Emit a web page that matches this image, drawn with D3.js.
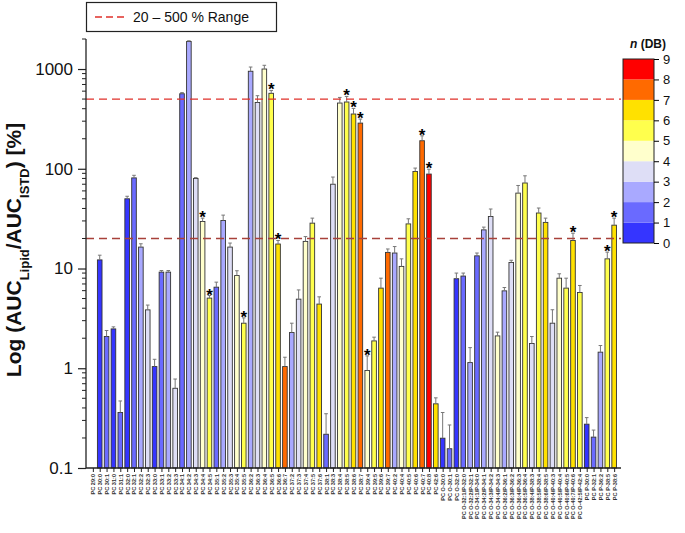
<!DOCTYPE html>
<html lang="en">
<head>
  <meta charset="UTF-8" />
  <title>PC species - AUC Lipid / AUC ISTD</title>
  <script src="https://d3js.org/d3.v7.min.js"></script>
  <style>
    body { margin: 0; background: #fff; }
    svg { font-family: Arial, "Liberation Sans", sans-serif; }
  </style>
</head>
<body>
  <div id="chart"></div>

  <script>
    // Lipid species (x axis)
    const labels = [
      "PC 29:0", "PC 30:0", "PC 30:1", "PC 31:0", "PC 31:1", "PC 32:0", "PC 32:1", "PC 32:2",
      "PC 32:3", "PC 33:0", "PC 33:1", "PC 33:2", "PC 33:3", "PC 34:1", "PC 34:2", "PC 34:3",
      "PC 34:4", "PC 34:5", "PC 35:1", "PC 35:2", "PC 35:3", "PC 35:4", "PC 35:5", "PC 36:2",
      "PC 36:3", "PC 36:4", "PC 36:5", "PC 36:6", "PC 36:7", "PC 37:2", "PC 37:3", "PC 37:4",
      "PC 37:5", "PC 37:6", "PC 38:1", "PC 38:3", "PC 38:4", "PC 38:5", "PC 38:6", "PC 38:7",
      "PC 39:4", "PC 39:5", "PC 39:6", "PC 39:7", "PC 40:2", "PC 40:4", "PC 40:5", "PC 40:6",
      "PC 40:7", "PC 40:8", "PC 42:6", "PC O-30:0", "PC O-30:1", "PC O-32:0",
      "PC O-32:1/P-32:0", "PC O-32:2/P-32:1", "PC O-34:1/P-34:0", "PC O-34:2/P-34:1",
      "PC O-34:3/P-34:2", "PC O-34:4/P-34:3", "PC O-36:2/P-36:1", "PC O-36:3/P-36:2",
      "PC O-36:4/P-36:3", "PC O-36:5/P-36:4", "PC O-38:4/P-38:3", "PC O-38:5/P-38:4",
      "PC O-38:6/P-38:5", "PC O-40:4/P-40:3", "PC O-40:5/P-40:4", "PC O-40:6/P-40:5",
      "PC O-40:7/P-40:6", "PC O-42:5/P-42:4", "PC P-30:0", "PC P-32:1", "PC P-36:2",
      "PC P-38:5", "PC P-38:6"
    ];

    // AUC ratio in % (null = not shown)
    const values = [
      null, 12.2, 2.08, 2.48, 0.36, 50, 81, 16.4, 3.85, 1.04, 9.2, 9.2, 0.63, 565, 1890, 80,
      29.6, 5.05, 6.5, 30.3, 16.4, 8.5, 2.83, 950, 462, 1000, 571, 17.6, 1.04, 2.28, 4.93, 18.7,
      28.5, 4.4, 0.218, 70, 456, 467, 354, 287, 0.95, 1.88, 6.36, 14.5, 14.3, 10.5, 28, 94,
      191, 88.5, 0.44, 0.199, 0.156, 7.9, 8.4, 1.14, 13.4, 24.4, 33.2, 2.11, 5.97, 11.5,
      57, 72, 1.77, 36, 29, 2.83, 8.0, 6.36, 19.1, 5.75, 0.275, 0.204, 1.45, 12.5, 27.2
    ];

    // upper end of the error bar
    const errorTop = [
      null, 13.6, 2.39, 2.6, 0.47, 53, 86, 17.7, 4.3, 1.23, 9.55, 9.55, 0.78, 580, 1920, 81.5,
      32, 5.36, 7.3, 34.3, 18, 9.5, 3.2, 1047, 540, 1090, 610, 19.1, 1.29, 2.83, 6.1, 20.9,
      32, 5.2, 0.35, 82.6, 519, 531, 403, 315, 1.33, 2.05, 8.0, 15.7, 16.6, 12.5, 31.5, 101.6,
      214, 99, 0.505, 0.36, 0.27, 9.0, 9.0, 1.61, 14.3, 26, 39.5, 2.3, 6.45, 12.1,
      68, 85, 2.08, 40.4, 32, 3.86, 8.85, 8.0, 22.6, 6.76, 0.32, 0.24, 1.69, 14.6, 32
    ];

    // number of double bonds (colour)
    const doubleBonds = [
      0, 0, 1, 0, 1, 0, 1, 2, 3, 0, 1, 2, 3, 1, 2, 3, 4, 5, 1, 2, 3, 4, 5, 2, 3, 4, 5, 6, 7,
      2, 3, 4, 5, 6, 1, 3, 4, 5, 6, 7, 4, 5, 6, 7, 2, 4, 5, 6, 7, 8, 6, 0, 1, 0, 1, 2, 1, 2,
      3, 4, 2, 3, 4, 5, 3, 5, 6, 3, 4, 5, 6, 5, 0, 1, 2, 5, 6
    ];

    // species marked with an asterisk
    const starred = [
      "PC 34:4", "PC 34:5", "PC 35:5", "PC 36:5", "PC 36:6", "PC 38:5", "PC 38:6", "PC 38:7",
      "PC 39:4", "PC 40:7", "PC 40:8", "PC O-40:7/P-40:6", "PC P-38:5", "PC P-38:6"
    ];

    const rangeLines = [20, 500];
    const yTicks = [0.1, 1, 10, 100, 1000];
    const dbTicks = [0, 1, 2, 3, 4, 5, 6, 7, 8, 9];
    const dbColors = ["#3535ff", "#6a6aff", "#a9a9ff", "#dedef6", "#ffffcc",
                      "#ffff4d", "#ffe100", "#ff6a00", "#ff0000"];

    const width = 685, height = 533;
    const plot = { left: 86, right: 621, top: 39, bottom: 468 };

    const svg = d3.select("#chart")
      .append("svg")
      .attr("width", width)
      .attr("height", height);

    const x = d3.scalePoint()
      .domain(labels)
      .range([plot.left, plot.right])
      .padding(1);

    const y = d3.scaleLog()
      .domain([0.1, 2000])
      .range([plot.bottom, plot.top]);

    const color = d3.scaleThreshold()
      .domain([1, 2, 3, 4, 5, 6, 7, 8])
      .range(dbColors);

    const data = labels.map((label, i) => ({
      label, value: values[i], err: errorTop[i], db: doubleBonds[i],
      star: starred.includes(label)
    }));
    const shown = data.filter(d => d.value != null);

    const barW = 4.6;

    // bars
    svg.append("g")
      .selectAll("rect")
      .data(shown)
      .enter()
      .append("rect")
      .attr("x", d => x(d.label) - barW / 2)
      .attr("y", d => y(d.value))
      .attr("width", barW)
      .attr("height", d => y(0.1) - y(d.value))
      .attr("fill", d => color(d.db))
      .attr("stroke", "#333")
      .attr("stroke-width", 0.9);

    // error bars
    const err = svg.append("g")
      .attr("stroke", "#777")
      .attr("stroke-width", 1);
    err.selectAll("line.v")
      .data(shown)
      .enter()
      .append("line")
      .attr("x1", d => x(d.label))
      .attr("x2", d => x(d.label))
      .attr("y1", d => y(d.value))
      .attr("y2", d => y(d.err));
    err.selectAll("line.cap")
      .data(shown)
      .enter()
      .append("line")
      .attr("x1", d => x(d.label) - 1.8)
      .attr("x2", d => x(d.label) + 1.8)
      .attr("y1", d => y(d.err))
      .attr("y2", d => y(d.err));

    // asterisks
    svg.append("g")
      .selectAll("text")
      .data(shown.filter(d => d.star))
      .enter()
      .append("text")
      .attr("x", d => x(d.label))
      .attr("y", d => y(d.err) + 5)
      .attr("text-anchor", "middle")
      .style("font-size", "17px")
      .style("font-weight", "bold")
      .text("*");

    // 20 - 500 % range lines
    svg.append("g")
      .selectAll("line")
      .data(rangeLines)
      .enter()
      .append("line")
      .attr("x1", plot.left)
      .attr("x2", plot.right)
      .attr("y1", d => y(d))
      .attr("y2", d => y(d))
      .attr("stroke", d => d === 20 ? "#a8413a" : "#e0302a")
      .attr("stroke-width", 1.3)
      .attr("stroke-dasharray", "8,5");

    // y axis with log minor ticks
    const minor = [];
    for (let e = -1; e <= 3; e++) {
      for (let m = 2; m <= 9; m++) {
        const v = m * Math.pow(10, e);
        if (v <= 2000) minor.push(v);
      }
    }
    const yAxis = svg.append("g")
      .attr("transform", `translate(${plot.left},0)`);
    yAxis.call(d3.axisLeft(y).tickValues(yTicks).tickSize(8).tickPadding(5)
      .tickFormat(d3.format("")));
    yAxis.select(".domain").attr("d", `M0,${plot.top}V${plot.bottom}`).attr("stroke", "#222")
      .attr("stroke-width", 1.3);
    yAxis.selectAll(".tick line").attr("stroke", "#222").attr("stroke-width", 1.2);
    yAxis.selectAll(".tick text").style("font-size", "17px").attr("fill", "#111");
    yAxis.selectAll("line.minor")
      .data(minor)
      .enter()
      .append("line")
      .attr("x1", -4)
      .attr("x2", 0)
      .attr("y1", d => y(d))
      .attr("y2", d => y(d))
      .attr("stroke", "#222");

    // x axis
    const xAxis = svg.append("g")
      .attr("transform", `translate(0,${plot.bottom})`);
    xAxis.call(d3.axisBottom(x).tickSize(4).tickPadding(3));
    xAxis.select(".domain").attr("d", `M${plot.left},0H${plot.right}`).attr("stroke", "#222")
      .attr("stroke-width", 1.3);
    xAxis.selectAll(".tick line").attr("stroke", "#222");
    xAxis.selectAll(".tick text")
      .attr("transform", "rotate(-90)")
      .attr("x", -6)
      .attr("y", 0)
      .attr("dy", "0.35em")
      .attr("text-anchor", "end")
      .style("font-size", "5.6px")
      .style("font-weight", "bold")
      .attr("fill", "#333");

    // y axis title
    const title = svg.append("text")
      .attr("transform", "translate(21,250) rotate(-90)")
      .attr("text-anchor", "middle")
      .style("font-size", "21px")
      .style("font-weight", "bold")
      .attr("fill", "#111");
    title.append("tspan").text("Log (AUC");
    title.append("tspan").attr("baseline-shift", "sub").style("font-size", "13px").text("Lipid");
    title.append("tspan").text("/AUC");
    title.append("tspan").attr("baseline-shift", "sub").style("font-size", "13px").text("ISTD");
    title.append("tspan").text(") [%]");

    // legend box
    const legend = svg.append("g");
    legend.append("rect")
      .attr("x", 86.5).attr("y", 2.5).attr("width", 190).attr("height", 29)
      .attr("fill", "#fff").attr("stroke", "#222").attr("stroke-width", 1.2);
    legend.append("line")
      .attr("x1", 95).attr("x2", 126).attr("y1", 17).attr("y2", 17)
      .attr("stroke", "#e0302a").attr("stroke-width", 1.5).attr("stroke-dasharray", "7,4");
    legend.append("text")
      .attr("x", 133).attr("y", 22)
      .style("font-size", "14px")
      .attr("fill", "#111")
      .text("20 \u2013 500 % Range");

    // colour bar n (DB)
    const cb = { left: 623, right: 654, top: 59, bottom: 243 };
    const yDb = d3.scaleLinear().domain([0, 9]).range([cb.bottom, cb.top]);
    const cbar = svg.append("g");
    cbar.selectAll("rect")
      .data(d3.range(9))
      .enter()
      .append("rect")
      .attr("x", cb.left)
      .attr("y", d => yDb(d + 1))
      .attr("width", cb.right - cb.left)
      .attr("height", d => yDb(d) - yDb(d + 1))
      .attr("fill", d => dbColors[d]);
    cbar.append("rect")
      .attr("x", cb.left).attr("y", cb.top)
      .attr("width", cb.right - cb.left).attr("height", cb.bottom - cb.top)
      .attr("fill", "none").attr("stroke", "#222").attr("stroke-width", 1);
    const cbAxis = cbar.append("g")
      .attr("transform", `translate(${cb.right},0)`)
      .call(d3.axisRight(yDb).tickValues(dbTicks).tickSize(5).tickPadding(4));
    cbAxis.select(".domain").remove();
    cbAxis.selectAll(".tick text").style("font-size", "13px").attr("fill", "#111");
    const cbTitle = cbar.append("text")
      .attr("x", 648).attr("y", 48)
      .attr("text-anchor", "middle")
      .style("font-size", "12px")
      .style("font-weight", "bold")
      .attr("fill", "#111");
    cbTitle.append("tspan").style("font-style", "italic").text("n");
    cbTitle.append("tspan").text(" (DB)");
  </script>
</body>
</html>
